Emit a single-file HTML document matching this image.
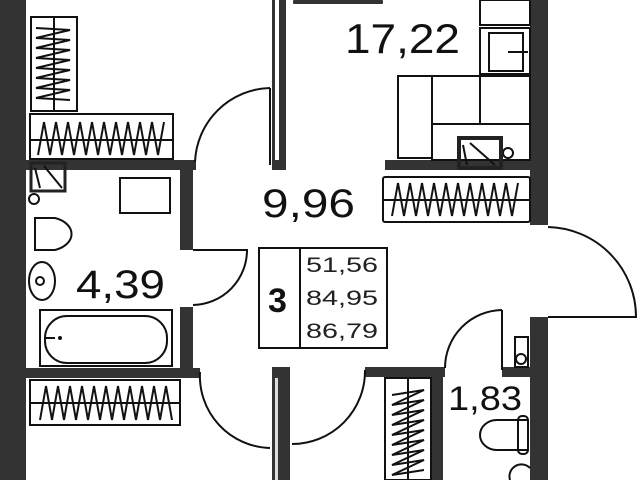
<!DOCTYPE html>
<html><head><meta charset="utf-8"><style>html,body{margin:0;padding:0;background:#fff}svg{display:block}</style></head>
<body>
<svg width="640" height="480" viewBox="0 0 640 480" xmlns="http://www.w3.org/2000/svg" font-family="Liberation Sans, sans-serif">
<rect width="640" height="480" fill="#fff"/>
<g fill="#333">
<rect x="0" y="0" width="26" height="480"/>
<rect x="272" y="0" width="14" height="170"/>
<rect x="530" y="0" width="18" height="225"/>
<rect x="530" y="317" width="18" height="163"/>
<rect x="26" y="160" width="170" height="10"/>
<rect x="180" y="160" width="13" height="90"/>
<rect x="180" y="307" width="13" height="70"/>
<rect x="26" y="368" width="174" height="10"/>
<rect x="272" y="367" width="18" height="113"/>
<rect x="365" y="367" width="80" height="10"/>
<rect x="431" y="367" width="12" height="113"/>
<rect x="502" y="367" width="30" height="10"/>
<rect x="385" y="160" width="145" height="10"/>
<rect x="293" y="0" width="90" height="4" rx="1"/>
</g>
<rect x="275" y="0" width="4" height="160" fill="#fff"/>
<rect x="275" y="378" width="3" height="102" fill="#ddd"/>
<g fill="none" stroke="#111" stroke-width="2">
<path d="M270 88 L270 165 M270 88 A77 77 0 0 0 195 162"/>
<path d="M193 250 L247 250 A55 55 0 0 1 193 305"/>
<path d="M200 372 A72 72 0 0 0 270 448"/>
<path d="M365 370 A73 73 0 0 1 292 444"/>
<path d="M548 317 L636 317 A90 90 0 0 0 548 227"/>
<path d="M502 310 L502 370 M502 310 A58 58 0 0 0 445 368"/>
<rect x="31" y="17" width="46" height="94"/>
<line x1="54" y1="17" x2="54" y2="111"/>
<polyline points="36,28 70,30 36,38 70,40 36,48 70,50 36,58 70,60 36,68 70,70 36,78 70,80 36,88 70,90 36,98 70,100"/>
<rect x="30" y="114" width="143" height="45"/>
<line x1="30" y1="140" x2="173" y2="140"/>
<polyline points="38,155 44,122 50,155 56,122 62,155 68,122 74,155 80,122 86,155 92,122 98,155 104,122 110,155 116,122 122,155 128,122 134,155 140,122 146,155 152,122 158,155 164,122"/>
<rect x="30" y="380" width="150" height="45"/>
<line x1="30" y1="403" x2="180" y2="403"/>
<polyline points="40,420 46,386 52,420 58,386 64,420 70,386 76,420 82,386 88,420 94,386 100,420 106,386 112,420 118,386 124,420 130,386 136,420 142,386 148,420 154,386 160,420 166,386 172,420"/>
<rect x="385" y="378" width="46" height="102"/>
<line x1="408" y1="378" x2="408" y2="480"/>
<polyline points="392,395 424,390 392,405 424,400 392,415 424,410 392,425 424,420 392,435 424,430 392,445 424,440 392,455 424,450 392,465 424,460 392,475 424,470"/>
<rect x="383" y="177" width="147" height="45" rx="2"/>
<line x1="383" y1="200" x2="530" y2="200"/>
<polyline points="392,216 398,183 404,216 410,183 416,216 422,183 428,216 434,183 440,216 446,183 452,216 458,183 464,216 470,183 476,216 482,183 488,216 494,183 500,216 506,183 512,216 518,183"/>
<rect x="480" y="0" width="50" height="25"/>
<rect x="480" y="28" width="50" height="46"/>
<rect x="489" y="33" width="34" height="38"/>
<line x1="508" y1="52" x2="528" y2="52"/>
<rect x="398" y="76" width="34" height="82"/>
<rect x="432" y="76" width="48" height="48"/>
<rect x="480" y="76" width="50" height="48"/>
<rect x="432" y="124" width="98" height="36"/>
<circle cx="508" cy="153" r="5"/>
<rect x="120" y="178" width="50" height="35"/>
<circle cx="34" cy="199" r="5"/>
<path d="M35 218 L55 218 A25 17 0 0 1 55 250 L35 250 Z"/>
<ellipse cx="42" cy="281" rx="13" ry="19"/>
<circle cx="40" cy="281" r="4"/>
<rect x="40" y="310" width="132" height="56"/>
<rect x="45" y="316" width="122" height="47" rx="22"/>
<rect x="515" y="337" width="13" height="30"/>
<circle cx="521" cy="359" r="5"/>
<path d="M528 420 L497 420 A17 15 0 0 0 497 450 L528 450"/>
<rect x="518" y="416" width="10" height="38" rx="4"/>
<path d="M510 480 A12 12 0 0 1 530 468"/>
<rect x="259" y="248" width="128" height="100"/>
<line x1="300" y1="248" x2="300" y2="348"/>
</g>
<rect x="31" y="163" width="34" height="28" fill="none" stroke="#222" stroke-width="3"/>
<path d="M44 166 L62 188 M35 168 L40 188" stroke="#111" stroke-width="2"/>
<rect x="459" y="138" width="42" height="30" fill="none" stroke="#222" stroke-width="4"/>
<path d="M470 143 L495 165 M463 145 L467 165" stroke="#111" stroke-width="2"/>
<circle cx="60" cy="338" r="2" fill="#111"/><line x1="45" y1="338" x2="55" y2="338" stroke="#111" stroke-width="2"/>
<g fill="#111">
<text x="345" y="53" font-size="42" textLength="115" lengthAdjust="spacingAndGlyphs">17,22</text>
<text x="262" y="217" font-size="40" textLength="93" lengthAdjust="spacingAndGlyphs">9,96</text>
<text x="76" y="298" font-size="40" textLength="89" lengthAdjust="spacingAndGlyphs">4,39</text>
<text x="448" y="410" font-size="34" textLength="74" lengthAdjust="spacingAndGlyphs">1,83</text>
<text x="268" y="312" font-size="34" font-weight="bold">3</text>
<text x="306" y="272" font-size="21" fill="#222" textLength="72" lengthAdjust="spacingAndGlyphs">51,56</text>
<text x="306" y="305" font-size="21" fill="#222" textLength="72" lengthAdjust="spacingAndGlyphs">84,95</text>
<text x="306" y="338" font-size="21" fill="#222" textLength="72" lengthAdjust="spacingAndGlyphs">86,79</text>
</g>
</svg>
</body></html>
